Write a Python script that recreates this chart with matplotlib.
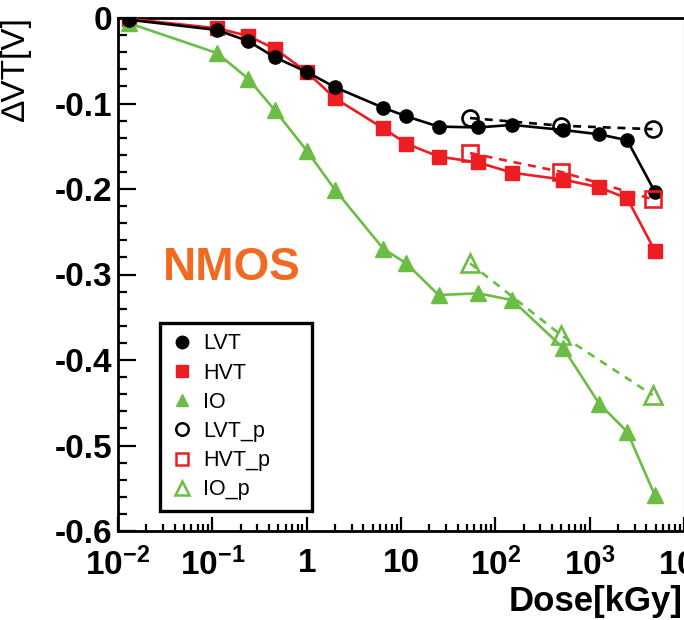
import matplotlib
matplotlib.use("Agg")
import matplotlib.pyplot as plt
from matplotlib.lines import Line2D
from matplotlib.ticker import FixedLocator, FuncFormatter, LogLocator, NullFormatter, MultipleLocator

plt.rcParams['font.family'] = ['Liberation Sans', 'DejaVu Sans']
plt.rcParams['axes.unicode_minus'] = False
plt.rcParams['mathtext.fontset'] = 'custom'
plt.rcParams['mathtext.rm'] = 'Liberation Sans:bold'
plt.rcParams['mathtext.it'] = 'Liberation Sans:bold'
plt.rcParams['mathtext.bf'] = 'Liberation Sans:bold'
plt.rcParams['mathtext.default'] = 'rm'

# Dose points [kGy]
dose = [0.013, 0.112, 0.24, 0.46, 1.0, 2.0, 6.5, 11.4, 25, 66, 151, 525, 1260, 2500, 4900]
lvt = [-0.002, -0.014, -0.027, -0.046, -0.063, -0.081, -0.105, -0.115, -0.127, -0.128,
       -0.125, -0.131, -0.136, -0.143, -0.203]
hvt = [-0.001, -0.012, -0.021, -0.036, -0.063, -0.094, -0.129, -0.147, -0.162, -0.169,
       -0.181, -0.189, -0.198, -0.211, -0.272]
io = [-0.006, -0.041, -0.071, -0.108, -0.155, -0.201, -0.270, -0.287, -0.324, -0.322,
      -0.330, -0.386, -0.451, -0.484, -0.558]

# Post-irradiation (annealing) points
dose_p = [54, 500, 4650]
lvt_p = [-0.117, -0.126, -0.130]
hvt_p = [-0.158, -0.180, -0.212]
io_p = [-0.287, -0.371, -0.441]

x_ticks = [1e-2, 1e-1, 1, 10, 1e2, 1e3, 1e4]
x_tick_labels = [r'$10^{-2}$', r'$10^{-1}$', '1', '10', r'$10^{2}$', r'$10^{3}$', r'$10^{4}$']
y_ticks = [0, -0.1, -0.2, -0.3, -0.4, -0.5, -0.6]

BLACK = '#000000'
RED = '#EC1E24'
GREEN = '#6CBD45'
ORANGE = '#F26A22'

fig = plt.figure(figsize=(6.84, 6.2), dpi=100)
ax = fig.add_axes([118 / 684, 89 / 620, 566 / 684, 513 / 620])

lw = 1.9
ax.plot(dose, lvt, color=BLACK, lw=lw, marker='o', ms=9.5, zorder=4)
ax.plot(dose, hvt, color=RED, lw=lw, marker='s', ms=10, zorder=3)
ax.plot(dose, io, color=GREEN, lw=lw, marker='^', ms=11, zorder=3)

dash = (0, (3.0, 2.6))
ax.plot(dose_p, lvt_p, color=BLACK, lw=lw, ls=dash, marker='o', ms=11.5, mfc='none', mew=1.9, zorder=5)
ax.plot(dose_p, hvt_p, color=RED, lw=lw, ls=dash, marker='s', ms=11.5, mfc='none', mew=1.9, zorder=5)
ax.plot(dose_p, io_p, color=GREEN, lw=lw, ls=dash, marker='^', ms=12.5, mfc='none', mew=1.9, zorder=5)

ax.set_xscale('log')
ax.set_xlim(1e-2, 1e4)
ax.set_ylim(-0.6, 0)

ax.xaxis.set_major_locator(FixedLocator(x_ticks))
ax.xaxis.set_major_formatter(FuncFormatter(lambda v, p: x_tick_labels[x_ticks.index(v)] if v in x_ticks else ''))
ax.xaxis.set_minor_locator(LogLocator(base=10, subs=range(2, 10), numticks=20))
ax.xaxis.set_minor_formatter(NullFormatter())

ax.yaxis.set_major_locator(FixedLocator(y_ticks))
ax.yaxis.set_major_formatter(FuncFormatter(lambda v, p: '0' if abs(v) < 1e-9 else f'{v:.1f}'))
ax.yaxis.set_minor_locator(MultipleLocator(0.02))

ax.tick_params(axis='both', which='both', direction='in', width=1.6, top=False, right=False)
ax.tick_params(axis='x', which='major', length=10, pad=12, labelsize=24)
ax.tick_params(axis='x', which='minor', length=5)
ax.tick_params(axis='y', which='major', length=13, pad=4, labelsize=24)
ax.tick_params(axis='y', which='minor', length=6.5)
for lab in ax.get_yticklabels() + ax.get_xticklabels():
    lab.set_fontweight('bold')

for side in ('left', 'bottom', 'top'):
    ax.spines[side].set_linewidth(2.0)
ax.spines['right'].set_linewidth(0.8)
ax.spines['right'].set_color('#555555')

ax.text(0.08, 0.489, 'NMOS', transform=ax.transAxes, color=ORANGE, fontsize=33,
        fontweight='bold', va='baseline', ha='left')

fig.text(0.024, 0.972, '\u2206VT[V]', rotation=90, va='top', ha='center', fontsize=24)
fig.text(0.998, 0.014, 'Dose[kGy]', ha='right', va='baseline', fontsize=25, fontweight='bold')

handles = [
    Line2D([], [], ls='none', marker='o', color=BLACK, ms=9),
    Line2D([], [], ls='none', marker='s', color=RED, ms=9),
    Line2D([], [], ls='none', marker='^', color=GREEN, ms=9),
    Line2D([], [], ls='none', marker='o', color=BLACK, mfc='none', mew=1.8, ms=9),
    Line2D([], [], ls='none', marker='s', color=RED, mfc='none', mew=1.8, ms=9),
    Line2D([], [], ls='none', marker='^', color=GREEN, mfc='none', mew=1.8, ms=10),
]
labels = ['LVT', 'HVT', 'IO', 'LVT_p', 'HVT_p', 'IO_p']
leg = ax.legend(handles, labels, loc='lower left',
                bbox_to_anchor=(42 / 566, 20 / 513, 152 / 566, 189 / 513), mode='expand',
                fontsize=15.5, frameon=True, fancybox=False, framealpha=1,
                edgecolor='black', handlelength=1.0, handletextpad=0.5,
                labelspacing=0.38, borderpad=0.5, borderaxespad=0)
leg.get_frame().set_linewidth(2.4)

fig.savefig('out.png', dpi=100)
